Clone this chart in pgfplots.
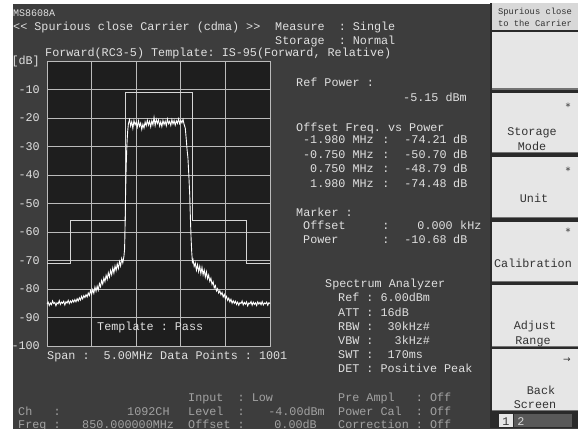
\documentclass[border=0pt]{standalone}
\usepackage{fontspec}
\setmainfont{Liberation Mono}
\newfontfamily\dejavu{DejaVu Sans}
\usepackage{pgfplots}
\pgfplotsset{compat=1.18}
\definecolor{bg}{HTML}{3D3D3D}
\definecolor{plotbg}{HTML}{1E1E1E}
\definecolor{gridc}{HTML}{BBBBBB}
\definecolor{tmpl}{HTML}{D6D6D6}
\definecolor{txt}{HTML}{E0E0E0}
\definecolor{dim}{HTML}{A2A2A2}
\definecolor{btn}{HTML}{E6E6E6}
\definecolor{hdr}{HTML}{D8D8D8}
\definecolor{btntxt}{HTML}{333333}
\definecolor{sep}{HTML}{2A2A2A}
\newcommand\ft{\fontsize{11.77pt}{14pt}\selectfont}
\newcommand\fsm{\fontsize{8.8pt}{10pt}\selectfont}

\begin{document}
\begin{tikzpicture}
\useasboundingbox (0pt,0pt) rectangle (581pt,432pt);
\fill[white] (0pt,0pt) rectangle (581pt,432pt);
\fill[bg] (13pt,3pt) rectangle (578pt,428pt);

\begin{axis}[
  at={(47pt,86pt)}, anchor=south west,
  scale only axis, width=223pt, height=285pt,
  xmin=-2.5, xmax=2.5, ymin=-100, ymax=0,
  xtick={-1.5,-0.5,0.5,1.5}, xticklabels={},
  ytick={0,-10,-20,-30,-40,-50,-60,-70,-80,-90,-100},
  yticklabels={{[dB]},-10,-20,-30,-40,-50,-60,-70,-80,-90,-100},
  major tick length=0pt,
  grid=major,
  grid style={gridc, line width=0.8pt},
  axis line style={gridc, line width=0.8pt},
  axis background/.style={fill=plotbg},
  yticklabel style={font=\ft, text=txt, inner sep=0pt, xshift=-7pt},
]
% template mask
\addplot[tmpl, line width=0.8pt] coordinates {
  (-2.5,-71) (-1.98,-71) (-1.98,-56) (-0.75,-56) (-0.75,-11)
  (0.75,-11) (0.75,-56) (1.98,-56) (1.98,-71) (2.5,-71)};
% measured trace
\addplot[white, line width=0.9pt] table {
x y
-2.500 -85.3
-2.475 -84.6
-2.450 -85.8
-2.425 -84.9
-2.400 -85.5
-2.375 -84.2
-2.350 -85.1
-2.325 -84.7
-2.300 -85.9
-2.275 -84.8
-2.250 -85.2
-2.225 -84.1
-2.200 -85.4
-2.175 -84.6
-2.150 -85.0
-2.125 -84.3
-2.100 -85.6
-2.075 -84.5
-2.050 -84.9
-2.025 -84.0
-2.000 -85.1
-1.975 -84.2
-1.950 -84.8
-1.925 -83.9
-1.900 -84.6
-1.875 -83.7
-1.850 -84.5
-1.825 -83.4
-1.800 -84.2
-1.775 -83.1
-1.750 -83.9
-1.725 -82.6
-1.700 -83.5
-1.675 -82.3
-1.650 -83.0
-1.625 -82.0
-1.600 -82.8
-1.575 -81.4
-1.550 -82.3
-1.525 -80.6
-1.500 -81.8
-1.475 -80.2
-1.450 -81.5
-1.425 -79.3
-1.400 -80.8
-1.375 -79.0
-1.350 -80.4
-1.325 -78.1
-1.300 -79.2
-1.275 -77.0
-1.250 -78.3
-1.225 -76.1
-1.200 -77.4
-1.175 -75.2
-1.150 -76.6
-1.125 -74.3
-1.100 -75.8
-1.075 -73.5
-1.050 -75.0
-1.025 -72.6
-1.000 -74.4
-0.975 -71.9
-0.950 -73.5
-0.925 -71.2
-0.900 -72.8
-0.875 -70.4
-0.850 -71.9
-0.825 -69.3
-0.800 -70.8
-0.775 -68.5
-0.760 -66.0
-0.750 -58.0
-0.740 -48.0
-0.725 -37.0
-0.710 -30.0
-0.700 -27.0
-0.690 -24.5
-0.675 -22.0
-0.650 -20.6
-0.625 -22.8
-0.600 -21.3
-0.575 -23.6
-0.550 -20.9
-0.525 -22.4
-0.500 -21.5
-0.475 -23.2
-0.450 -21.0
-0.425 -22.9
-0.400 -21.8
-0.375 -24.0
-0.350 -22.2
-0.325 -23.5
-0.300 -21.4
-0.275 -22.7
-0.250 -20.8
-0.225 -22.5
-0.200 -21.2
-0.175 -23.1
-0.150 -21.0
-0.125 -22.4
-0.100 -19.8
-0.075 -22.6
-0.050 -20.5
-0.025 -21.9
0.000 -20.7
0.025 -22.8
0.050 -21.3
0.075 -23.0
0.100 -20.9
0.125 -22.3
0.150 -21.1
0.175 -22.7
0.200 -20.4
0.225 -22.0
0.250 -21.2
0.275 -22.6
0.300 -20.6
0.325 -22.1
0.350 -20.9
0.375 -22.5
0.400 -21.0
0.425 -21.9
0.450 -20.3
0.475 -22.0
0.500 -20.8
0.525 -21.7
0.550 -20.5
0.575 -22.3
0.600 -23.5
0.620 -27.0
0.640 -31.0
0.660 -34.0
0.680 -40.0
0.700 -47.0
0.715 -55.0
0.730 -62.0
0.745 -67.0
0.760 -70.5
0.775 -69.8
0.800 -72.1
0.825 -70.9
0.850 -73.4
0.875 -71.5
0.900 -73.9
0.925 -72.0
0.950 -74.6
0.975 -72.4
1.000 -75.0
1.025 -73.3
1.050 -75.8
1.075 -74.0
1.100 -76.4
1.125 -75.1
1.150 -77.3
1.175 -76.2
1.200 -78.4
1.225 -77.5
1.250 -79.6
1.275 -78.8
1.300 -80.7
1.325 -79.9
1.350 -81.4
1.375 -80.6
1.400 -82.0
1.425 -81.2
1.450 -82.8
1.475 -81.9
1.500 -83.4
1.525 -82.6
1.550 -84.0
1.575 -83.2
1.600 -84.5
1.625 -83.6
1.650 -85.0
1.675 -84.1
1.700 -85.0
1.725 -84.3
1.750 -85.4
1.775 -84.6
1.800 -85.7
1.825 -84.8
1.850 -85.1
1.875 -84.2
1.900 -85.6
1.925 -84.7
1.950 -85.3
1.975 -84.5
2.000 -85.9
2.025 -84.9
2.050 -85.2
2.075 -84.4
2.100 -85.7
2.125 -84.6
2.150 -85.4
2.175 -84.8
2.200 -85.8
2.225 -84.5
2.250 -85.3
2.275 -84.7
2.300 -85.5
2.325 -84.4
2.350 -85.6
2.375 -84.9
2.400 -85.2
2.425 -84.6
2.450 -85.7
2.475 -84.8
2.500 -85.1
};
\end{axis}

\begin{scope}[x=1pt, y=-1pt, shift={(0pt,432pt)},
  every node/.style={inner sep=0pt, font=\ft, text=txt}]
% header
\node[anchor=base west, font=\fontsize{10pt}{12pt}\selectfont] at (13,17) {MS8608A};
\node[anchor=base west] at (13,31) {<{}<~Spurious~close~Carrier~(cdma)~>{}>};
\node[anchor=base west] at (275,31) {Measure~~:~Single};
\node[anchor=base west] at (275,45) {Storage~~:~Normal};
\node[anchor=base west] at (45,57) {Forward(RC3-5)~Template:~IS-95(Forward,~Relative)};
% in-plot texts
\node[anchor=base west] at (97,330) {Template~:~Pass};
\node[anchor=base west] at (47,359) {Span~:~~5.00MHz~Data~Points~:~1001};
% reference power
\node[anchor=base west] at (296,87) {Ref~Power~:};
\node[anchor=base east] at (467,102) {-5.15~dBm};
\node[anchor=base west] at (296,131) {Offset~Freq.~vs~Power};
\foreach \yy/\ff/\vv in {144/-1.980/-74.21, 158/-0.750/-50.70, 172/0.750/-48.79, 187/1.980/-74.48}{
  \node[anchor=base east] at (374,\yy) {\ff~MHz};
  \node[anchor=base] at (386,\yy) {:};
  \node[anchor=base east] at (447,\yy) {\vv};
  \node[anchor=base west] at (453,\yy) {dB};
}
% marker
\node[anchor=base west] at (296,216) {Marker~:};
\node[anchor=base west] at (303,229) {Offset};
\node[anchor=base] at (386,229) {:};
\node[anchor=base east] at (453,229) {0.000};
\node[anchor=base west] at (460,229) {kHz};
\node[anchor=base west] at (303,243) {Power};
\node[anchor=base] at (386,243) {:};
\node[anchor=base east] at (447,243) {-10.68};
\node[anchor=base west] at (453,243) {dB};
% spectrum analyzer settings
\node[anchor=base west] at (325,287) {Spectrum~Analyzer};
\node[anchor=base west] at (338,301) {Ref~:~6.00dBm};
\node[anchor=base west] at (338,316) {ATT~:~16dB};
\node[anchor=base west] at (338,330) {RBW~:~~30kHz\#};
\node[anchor=base west] at (338,344) {VBW~:~~~3kHz\#};
\node[anchor=base west] at (338,358) {SWT~:~~170ms};
\node[anchor=base west] at (338,372) {DET~:~Positive~Peak};
% bottom status lines
\begin{scope}[every node/.append style={text=dim}]
\node[anchor=base west] at (188,401) {Input~~:~Low};
\node[anchor=base west] at (338,401) {Pre~Ampl~~~:~Off};
\node[anchor=base west] at (18,415) {Ch~~~:};
\node[anchor=base west] at (127,415) {1092CH};
\node[anchor=base west] at (188,415) {Level~~:};
\node[anchor=base east] at (325,415) {-4.00dBm};
\node[anchor=base west] at (338,415) {Power~Cal~~:~Off};
\node[anchor=base west] at (18,428) {Freq~:};
\node[anchor=base west] at (82,428) {850.000000MHz};
\node[anchor=base west] at (188,428) {Offset~:};
\node[anchor=base east] at (317,428) {0.00dB};
\node[anchor=base west] at (338,428) {Correction~:~Off};
\end{scope}
% soft-key panel
\fill[sep] (490,3) rectangle (578,428);
\fill[hdr] (492,3) rectangle (578,30);
\foreach \ta/\tb in {32/90, 93/153, 157/218, 222/282, 285/347, 349/411}{
  \fill[btn] (492,\ta) rectangle (578,\tb);
  \fill[black!55] (492,\tb-1.5) rectangle (578,\tb);
}
\begin{scope}[every node/.append style={text=btntxt}]
\node[anchor=base, font=\fsm] at (535,15) {Spurious~close};
\node[anchor=base, font=\fsm] at (535,27) {to~the~Carrier};
\node[anchor=base, font=\dejavu\fontsize{10pt}{12pt}\selectfont] at (568,111) {*};
\node[anchor=base] at (532,136) {Storage};
\node[anchor=base] at (532,151) {Mode};
\node[anchor=base, font=\dejavu\fontsize{10pt}{12pt}\selectfont] at (568,174) {*};
\node[anchor=base] at (534,202) {Unit};
\node[anchor=base, font=\dejavu\fontsize{10pt}{12pt}\selectfont] at (568,235) {*};
\node[anchor=base] at (533,267) {Calibration};
\node[anchor=base] at (535,329) {Adjust};
\node[anchor=base] at (533,344) {Range};
\node[anchor=base, font=\dejavu\fontsize{9pt}{11pt}\selectfont] at (567,362) {→};
\node[anchor=base] at (541,394) {Back};
\node[anchor=base] at (535,408) {Screen};
\end{scope}
\fill[sep] (490,412) rectangle (578,428);
\fill[btn] (499,414) rectangle (513,427);
\fill[black!65] (514,414) rectangle (572,427);
\node[anchor=base, text=btntxt] at (506,425) {1};
\node[anchor=base, text=hdr] at (521,425) {2};
% clip the bottom margin
\fill[white] (0,428.5) rectangle (581,432);
\end{scope}
\end{tikzpicture}
\end{document}
